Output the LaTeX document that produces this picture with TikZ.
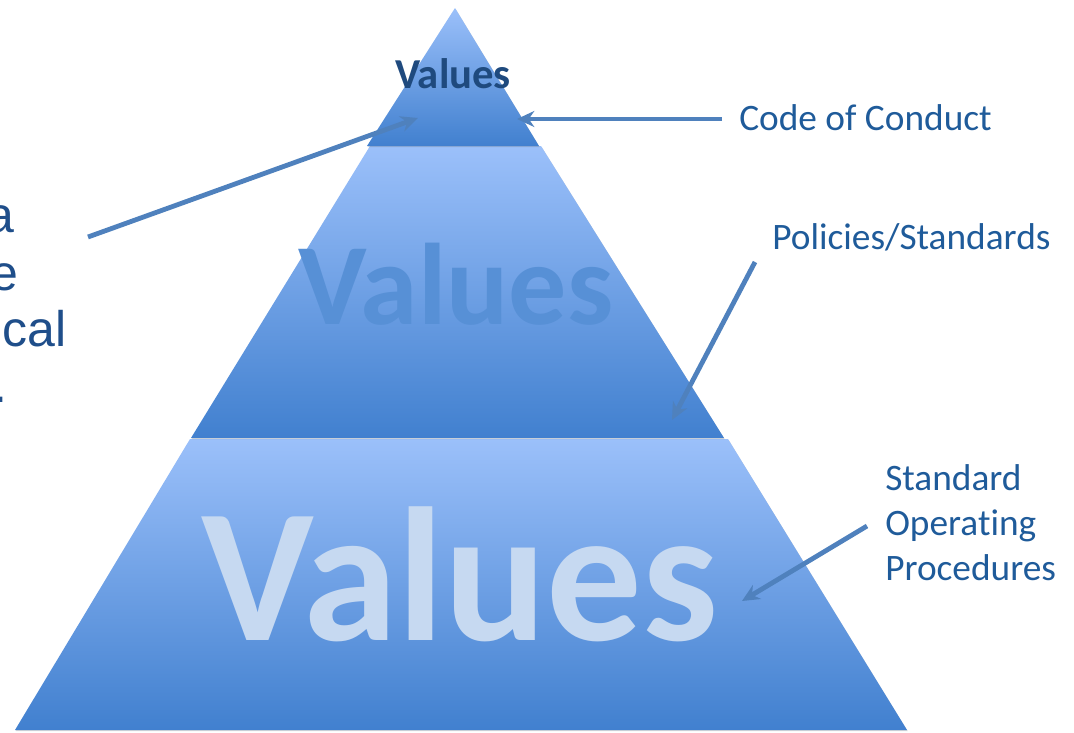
\documentclass[tikz,border=0pt]{standalone}
\usepackage{fontspec}
\setmainfont{Carlito}[Ligatures=NoCommon]
\newfontfamily\arialfont{Liberation Sans}
\usetikzlibrary{arrows.meta,shadows}
\definecolor{pyrlight}{RGB}{155,192,250}
\definecolor{pyrdark}{RGB}{65,128,207}
\definecolor{labelblue}{RGB}{31,91,154}
\definecolor{titleblue}{RGB}{31,74,126}
\definecolor{arrowblue}{RGB}{79,129,189}
\definecolor{leftblue}{RGB}{31,78,138}
\definecolor{bigtext}{RGB}{198,217,241}
\definecolor{midtext}{RGB}{87,144,214}
\begin{document}
\begin{tikzpicture}[x=0.75pt, y=-0.75pt,
    tier/.style={top color=pyrlight, bottom color=pyrdark, drop shadow={shadow xshift=0.6pt, shadow yshift=-0.9pt, opacity=0.3}},
    caption/.style={text=labelblue, font=\fontsize{28}{33.75}\selectfont, inner sep=0pt, anchor=base west},
    cut/.style={text=leftblue, font=\arialfont\fontsize{37.5}{43}\selectfont, inner sep=0pt, anchor=base east},
    word/.style={font=\bfseries, inner sep=0pt, anchor=base},
    pointer/.style={-{Stealth[length=13pt,width=12pt]}, line width=3.6pt, arrowblue}
]
\useasboundingbox (0,0) rectangle (1074,732);

\shade[tier] (15,730) -- (190,439) -- (728,439) -- (907,730) -- cycle;
\node[word, text=bigtext, font=\bfseries\fontsize{143}{143}\selectfont] (big) at (460,640) {Values};
\shade[tier] (191,438) -- (370,146) -- (541,146) -- (724,438) -- cycle;
\node[word, text=midtext, font=\bfseries\fontsize{87}{87}\selectfont] (mid) at (456,324) {Values};
\shade[tier] (367,146) -- (455,8) -- (539,146) -- cycle;
\node[word, text=titleblue, font=\bfseries\fontsize{32}{32}\selectfont] (top) at (453,88) {Values};

\node[caption] (conduct) at (739,130) {Code of Conduct};
\node[caption] (policies) at (772,249) {Policies/Standards};
\node[caption, align=left] (sop) at (885,580) {Standard\\Operating\\Procedures};

\node[cut] (l1) at (14.5,232) {a};
\node[cut] (l2) at (18.5,290) {e};
\node[cut] (l3) at (66.5,346) {ical};
\node[cut] (l4) at (8,402) {.};

\coordinate (from1) at (88,237);
\coordinate (to1) at (418,118);
\coordinate (from2) at (722,119);
\coordinate (to2) at (517,119);
\coordinate (from3) at (755,262);
\coordinate (to3) at (672,420);
\coordinate (from4) at (867,526);
\coordinate (to4) at (742,601);

\draw[pointer] (from1) -- (to1);
\draw[pointer] (from2) -- (to2);
\draw[pointer] (from3) -- (to3);
\draw[pointer] (from4) -- (to4);
\end{tikzpicture}
\end{document}
